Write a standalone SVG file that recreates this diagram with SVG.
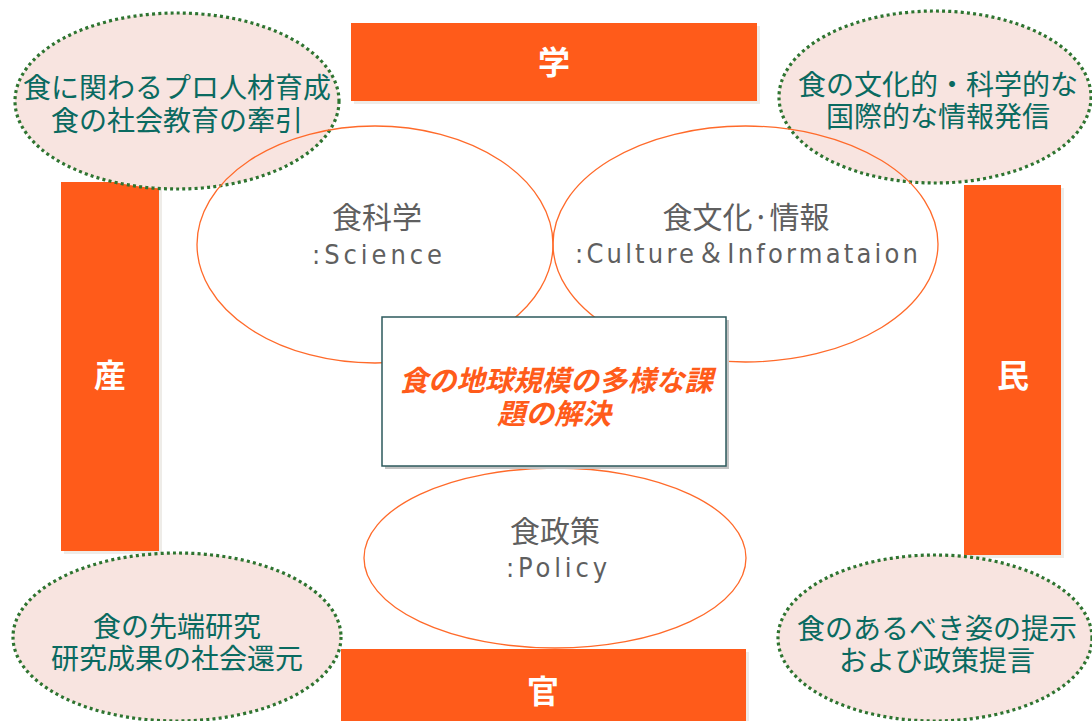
<svg xmlns="http://www.w3.org/2000/svg" width="1092" height="721" viewBox="0 0 1092 721">
<style>
.bar{fill:#ff5b1a}
.sh{fill:#eeece8}
.bt{font-family:"Noto Sans CJK JP","Noto Sans CJK SC",sans-serif;font-size:32px;font-weight:bold;fill:#ffffff;text-anchor:middle}
.dot{fill:#f8e4e0;stroke:#2e7430;stroke-width:3.2;stroke-dasharray:3 3.2}
.dt{font-family:"Noto Sans CJK JP","Noto Sans CJK SC",sans-serif;font-size:28px;fill:#0a6a60;text-anchor:middle}
.big{fill:none;stroke:#ff6a2a;stroke-width:1.3}
.jt{font-family:"Noto Sans CJK JP","Noto Sans CJK SC",sans-serif;font-size:30px;fill:#5f5f5f;text-anchor:middle}
.et{font-family:"Liberation Sans Narrow","DejaVu Sans Condensed","Liberation Sans","Noto Sans CJK JP",sans-serif;font-size:27px;fill:#5f5f5f}
.ct{font-family:"Noto Sans CJK JP","Noto Sans CJK SC",sans-serif;font-size:28.5px;font-weight:bold;font-style:italic;fill:#ff5b1a;text-anchor:middle}
</style>
<rect width="1092" height="721" fill="#ffffff"/>
<g id="bar-gaku">
<rect class="sh" x="354" y="26" width="406" height="78"/>
<rect class="bar" x="351" y="23" width="406" height="78"/>
<text class="bt" x="554" y="74">学</text>
</g>
<g id="bar-san">
<rect class="sh" x="64" y="185" width="98" height="369"/>
<rect class="bar" x="61" y="182" width="98" height="369"/>
<text class="bt" x="110" y="387">産</text>
</g>
<g id="bar-min">
<rect class="sh" x="967" y="188" width="97" height="370"/>
<rect class="bar" x="964" y="185" width="97" height="370"/>
<text class="bt" x="1013" y="387">民</text>
</g>
<g id="bar-kan">
<rect class="sh" x="344" y="652" width="405" height="72"/>
<rect class="bar" x="341" y="649" width="405" height="75"/>
<text class="bt" x="543" y="703">官</text>
</g>
<g id="note-tl">
<ellipse class="dot" cx="177" cy="101" rx="162" ry="88"/>
<text class="dt"><tspan x="177" y="98">食に関わるプロ人材育成</tspan><tspan x="177" y="131">食の社会教育の牽引</tspan></text>
</g>
<g id="note-tr">
<ellipse class="dot" cx="935" cy="97" rx="156" ry="86"/>
<text class="dt"><tspan x="938" y="95">食の文化的・科学的な</tspan><tspan x="938" y="127">国際的な情報発信</tspan></text>
</g>
<g id="note-bl">
<ellipse class="dot" cx="177" cy="637" rx="164" ry="84"/>
<text class="dt"><tspan x="177" y="637">食の先端研究</tspan><tspan x="177" y="669">研究成果の社会還元</tspan></text>
</g>
<g id="note-br">
<ellipse class="dot" cx="935" cy="638" rx="157" ry="83"/>
<text class="dt"><tspan x="937" y="639">食のあるべき姿の提示</tspan><tspan x="937" y="671">および政策提言</tspan></text>
</g>
<g id="science">
<ellipse class="big" cx="375" cy="244.5" rx="178" ry="118.5"/>
<text class="jt" x="377" y="228">食科学</text>
<text class="et" x="312" y="264" textLength="130" lengthAdjust="spacing">:Science</text>
</g>
<g id="culture">
<ellipse class="big" cx="745.5" cy="244" rx="192.5" ry="118"/>
<text class="jt" x="746" y="228">食文化·情報</text>
<text class="et" x="575" y="263" textLength="343" lengthAdjust="spacing">:Culture＆Informataion</text>
</g>
<g id="policy">
<ellipse class="big" cx="555" cy="558" rx="191" ry="90"/>
<text class="jt" x="555" y="542">食政策</text>
<text class="et" x="506" y="577" textLength="101" lengthAdjust="spacing">:Policy</text>
</g>
<g id="center">
<rect x="385" y="320" width="344" height="149" fill="#c4c4c4"/>
<rect x="382" y="317" width="344" height="149" fill="#ffffff" stroke="#2c5a5c" stroke-width="1.5"/>
<text class="ct"><tspan x="556" y="391">食の地球規模の多様な課</tspan><tspan x="554" y="424">題の解決</tspan></text>
</g>
<g id="connectors"></g>
</svg>
